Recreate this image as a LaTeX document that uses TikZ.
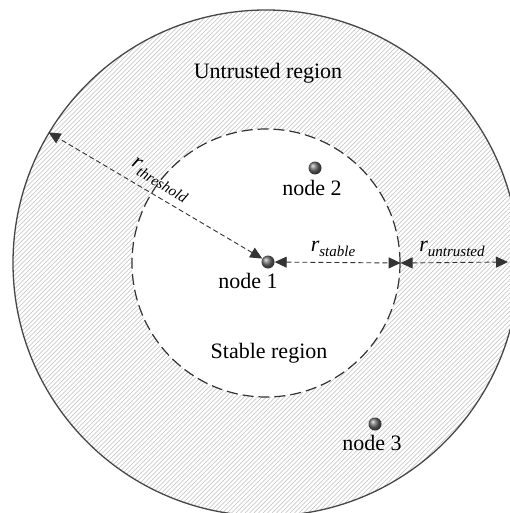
\documentclass[tikz,border=0pt]{standalone}
\usepackage{fontspec}
\setmainfont{Liberation Serif}
\usetikzlibrary{arrows.meta}
\definecolor{ink}{HTML}{333333}
\definecolor{hatchgray}{HTML}{C2C2C2}
% radius symbol with an italic subscript
\newcommand\rsub[1]{\textit{r}\raisebox{-5pt}{\fontsize{15}{17}\selectfont\textit{#1}}}
\begin{document}
\begin{tikzpicture}[x=1pt,y=-1pt,
  ball/.style={circle,inner sep=0pt,minimum size=13pt,ball color=gray!85!black},
  lbl/.style={font=\fontsize{22}{26}\selectfont,inner sep=0pt,text=black},
  measure/.style={draw=ink,line width=0.9pt,dash pattern=on 5pt off 3pt,
    {Triangle[length=12pt,width=11pt]}-{Triangle[length=12pt,width=11pt]}}
]
\useasboundingbox[fill=white] (0,0) rectangle (509,513);
\coordinate (c) at (266,263);

% hatched untrusted annulus
\begin{scope}
  \clip (c) circle (253pt);
  \foreach \i in {-520,-515.5,...,520}
    \draw[hatchgray,line width=0.5pt] (\i,513) -- (\i+513,0);
\end{scope}
\node[circle,draw=ink!90,line width=1.3pt,inner sep=0pt,minimum size=506pt] (outer) at (c) {};
\node[circle,draw=ink,fill=white,line width=1.2pt,dash pattern=on 11pt off 5pt,
      inner sep=0pt,minimum size=268pt] (inner) at (c) {};

% region labels
\node[lbl] (untrusted) at (268,73) {Untrusted region};
\node[lbl] (stable) at (269,353) {Stable region};

% sensor nodes
\node[ball] (n1) at (268,262) {};
\node[ball] (n2) at (315,168) {};
\node[ball] (n3) at (375,424) {};
\node[lbl] (t1) at (248,281) {node 1};
\node[lbl] (t2) at (312,188) {node 2};
\node[lbl] (t3) at (372,443) {node 3};

% radii
\coordinate (edge) at (508,262);
\draw[measure] (n1) -- (outer.149);
\draw[measure] (n1) -- (inner.east);
\draw[measure] (inner.east) -- (edge);

\node[lbl,rotate=-31] (rthr) at (160,180) {\rsub{threshold}};
\node[lbl] (rst) at (333,249) {\rsub{stable}};
\node[lbl] (run) at (452,249) {\rsub{untrusted}};
\end{tikzpicture}
\end{document}
